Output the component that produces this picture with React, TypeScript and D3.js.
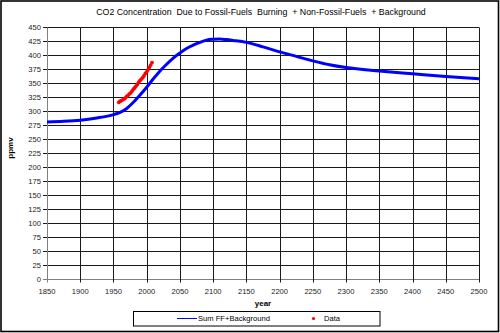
import React from "react";
import * as d3 from "d3";

const W = 500;
const H = 333;

const yTicks = [0, 25, 50, 75, 100, 125, 150, 175, 200, 225, 250, 275, 300, 325, 350, 375, 400, 425, 450];
const xTicks = [1850, 1900, 1950, 2000, 2050, 2100, 2150, 2200, 2250, 2300, 2350, 2400, 2450, 2500];

const modelYears = [1850, 1875, 1900, 1925, 1950, 1960, 1970, 1980, 1990, 2000, 2010, 2020, 2030, 2040, 2050, 2060, 2070, 2080, 2090, 2100, 2110, 2120, 2130, 2150, 2175, 2200, 2225, 2250, 2275, 2300, 2350, 2400, 2450, 2500];
const modelPpm = [280, 281, 283, 287, 293, 297, 304, 315, 328, 342, 357, 371, 383, 394, 403, 411, 417, 422, 426, 427.5, 428, 427, 425.5, 422, 414, 405, 397, 389, 382, 377, 371, 366, 361, 357];

const dataYears = [1958, 1960, 1962, 1964, 1966, 1968, 1970, 1972, 1974, 1976, 1978, 1980, 1982, 1984, 1986, 1988, 1990, 1992, 1994, 1996, 1998, 2000, 2002, 2004, 2006, 2008];
const dataPpm = [315, 317, 318, 319.5, 321, 323, 325.5, 327.5, 330, 332, 335, 338.5, 341, 344, 347, 351, 354, 356.5, 359, 362.5, 366.5, 369.5, 373, 377.5, 381.5, 386];

const title = "CO2 Concentration  Due to Fossil-Fuels  Burning  + Non-Fossil-Fuels  + Background";
const legendLabels = ["Sum FF+Background", "Data"];

const FONT = "'Liberation Sans', Arial, sans-serif";

export default function App() {
  const x = d3.scaleLinear().domain([1850, 2500]).range([47, 479]);
  const y = d3.scaleLinear().domain([0, 450]).range([278.7, 26.7]);

  const line = d3
    .line<number>()
    .x((_, i) => x(modelYears[i]))
    .y((d) => y(d))
    .curve(d3.curveMonotoneX);

  const px = (v: number) => Math.round(v) + 0.5;

  return (
    <svg
      width={W}
      height={H}
      style={{ position: "absolute", left: 0, top: 0, background: "#fff" }}
      fontFamily={FONT}
    >
      <rect x={0} y={0} width={W} height={H} fill="#fff" />
      {/* outer border */}
      <rect x={1} y={1} width={497.5} height={330.5} fill="none" stroke="#000" strokeWidth={1.6} />

      {/* title */}
      <text x={261} y={14.5} textAnchor="middle" fontSize={8.8} fill="#000" style={{ whiteSpace: "pre" }}>
        {title}
      </text>

      {/* horizontal grid */}
      {yTicks.map((t) => (
        <g key={"y" + t}>
          <line x1={43} x2={479} y1={px(y(t))} y2={px(y(t))} stroke={t === 0 ? "#808080" : "#1a1a1a"} strokeWidth={1} />
          <text x={41} y={y(t) + 2.8} textAnchor="end" fontSize={7.6} fill="#222">
            {t}
          </text>
        </g>
      ))}
      {/* vertical grid */}
      {xTicks.map((t) => (
        <g key={"x" + t}>
          <line x1={px(x(t))} x2={px(x(t))} y1={px(y(450))} y2={px(y(0)) + 3} stroke={t === 1850 ? "#808080" : "#1a1a1a"} strokeWidth={1} />
          <text x={x(t)} y={294} textAnchor="middle" fontSize={7.6} fill="#222">
            {t}
          </text>
        </g>
      ))}

      {/* axis labels */}
      <text x={263} y={306} textAnchor="middle" fontSize={8} fontWeight="bold" fill="#000">
        year
      </text>
      <text
        transform={`translate(13, 148) rotate(-90)`}
        textAnchor="middle"
        fontSize={8}
        fontWeight="bold"
        fill="#000"
      >
        ppmv
      </text>

      {/* model curve */}
      <path d={line(modelPpm) || ""} fill="none" stroke="#0000ff" strokeWidth={3} strokeLinejoin="round" />

      {/* data points */}
      {dataPpm.map((v, i) => (
        <circle key={"d" + i} cx={x(dataYears[i])} cy={y(v)} r={1.9} fill="#ff0000" />
      ))}

      {/* legend */}
      <rect x={133.5} y={311.5} width={246.5} height={14.5} fill="#fff" stroke="#000" strokeWidth={1} />
      <line x1={177} x2={197} y1={318.5} y2={318.5} stroke="#0000ff" strokeWidth={1} />
      <text x={198} y={321} fontSize={7.6} fill="#000">
        {legendLabels[0]}
      </text>
      <circle cx={313.5} cy={318.5} r={1.6} fill="#ff0000" />
      <text x={324} y={321} fontSize={7.6} fill="#000">
        {legendLabels[1]}
      </text>
    </svg>
  );
}
